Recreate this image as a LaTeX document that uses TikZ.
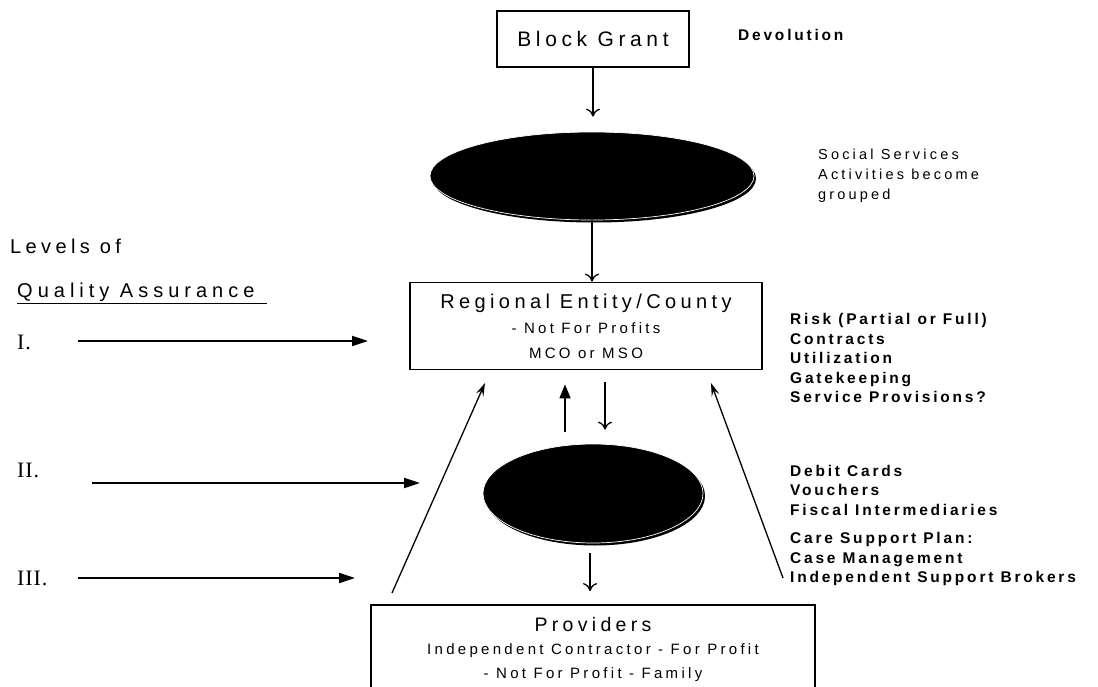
\documentclass[tikz,border=0pt]{standalone}
\usepackage{fontspec}
\setmainfont{Liberation Sans}
\newfontfamily\lsA[LetterSpace=22]{Liberation Sans}
\newfontfamily\lsQ[LetterSpace=25]{Liberation Sans}
\newfontfamily\lsB[LetterSpace=18]{Liberation Sans}
\newfontfamily\romanf[LetterSpace=4]{Liberation Serif}
\usetikzlibrary{arrows.meta,shapes.geometric}
\tikzset{
  boxed/.style={draw, line width=1.8pt, inner sep=0pt, align=center},
  blob/.style={ellipse, fill=black, inner sep=0pt},
  conn/.style={line width=1.3pt, -{To[length=8pt,width=14pt,line width=1.3pt]}},
  fconn/.style={line width=1.6pt, -{Triangle[length=14pt,width=11pt]}},
  diag/.style={line width=1.3pt, -{Stealth[length=13pt,width=8pt,inset=5pt]}},
  lvl/.style={line width=2.2pt, -{Triangle[length=16pt,width=10pt]}},
  bolds/.style={font=\lsB\bfseries\fontsize{15.5}{19.5}\selectfont, align=left, inner sep=0pt, anchor=west},
  numeral/.style={font=\romanf\fontsize{22}{24}\selectfont, inner sep=0pt, anchor=west},
  lbl/.style={font=\lsA\fontsize{20}{24}\selectfont, inner sep=0pt, anchor=west},
}
\begin{document}
\begin{tikzpicture}[x=1pt,y=-1pt]
\clip (0,0) rectangle (1098,687);
\fill[white] (0,0) rectangle (1098,687);

% boxes
\node[boxed, minimum width=192pt, minimum height=56pt, font=\lsA\fontsize{21}{24}\selectfont] (bg) at (593,39) {Block Grant};
\node[boxed, minimum width=352pt, minimum height=87pt, font=\lsA\fontsize{15}{25}\selectfont] (rg) at (586,326)
  {{\fontsize{20}{25}\selectfont Regional Entity/County}\\
   - Not For Profits\\
   MCO or MSO};
\node[boxed, minimum width=444pt, minimum height=88pt, font=\lsA\fontsize{15}{23.5}\selectfont] (pv) at (593,649)
  {{\fontsize{19.5}{23.5}\selectfont Providers}\\
   Independent Contractor - For Profit\\
   - Not For Profit - Family};

% ellipses (shadow + front)
\node[blob, minimum width=324pt, minimum height=88pt] (e1s) at (594,178.5) {};
\node[blob, draw=white, line width=0.7pt, minimum width=324pt, minimum height=88pt] (e1) at (592,176) {};
\node[blob, minimum width=220pt, minimum height=99pt] (e2s) at (595,496) {};
\node[blob, draw=white, line width=0.7pt, minimum width=220pt, minimum height=99pt] (e2) at (593,493.5) {};

% side texts
\node[font=\lsB\bfseries\fontsize{15.5}{19}\selectfont, inner sep=0pt, anchor=west] (dev) at (738,35) {Devolution};
\node[font=\lsA\fontsize{14.5}{20}\selectfont, align=left, inner sep=0pt, anchor=west] (ss) at (818,176)
  {Social Services\\Activities become\\grouped};
\node[bolds] (risk) at (790,358)
  {Risk (Partial or Full)\\Contracts\\Utilization\\Gatekeeping\\Service Provisions?};
\node[bolds] (debit) at (790,490) {Debit Cards\\Vouchers\\Fiscal Intermediaries};
\node[bolds] (care) at (790,559) {Care Support Plan:\\Case Management\\Independent Support Brokers};

% levels
\node[lbl] (lv) at (10,246) {Levels of};
\node[lbl, font=\lsQ\fontsize{20}{24}\selectfont] (qa) at (17,292) {Quality Assurance};
\draw[line width=1.3pt] (qa.south west) ++(0,2) coordinate (ula) -- (ula -| 267,0);
\node[numeral] (n1) at (17,342) {I.};
\node[numeral] (n2) at (17,470) {II.};
\node[numeral] (n3) at (17,578) {III.};

\coordinate (l1a) at (78,341);  \coordinate (l1b) at (368,341);
\coordinate (l2a) at (92,483);  \coordinate (l2b) at (420,483);
\coordinate (l3a) at (78,578);  \coordinate (l3b) at (355,578);
\draw[lvl] (l1a) -- (l1b);
\draw[lvl] (l2a) -- (l2b);
\draw[lvl] (l3a) -- (l3b);

% vertical connectors
\draw[conn, shorten >=15pt] (bg.south) -- (bg.south |- e1.north);
\draw[conn] (e1.south) -- (e1.south |- rg.north);
\coordinate (upx) at (565,0);
\coordinate (dnx) at (605,0);
\coordinate (mdx) at (590,0);
\draw[fconn, shorten <=12pt, shorten >=14pt] (e2.north -| upx) -- (rg.south -| upx);
\draw[conn, shorten <=12pt, shorten >=14pt] (rg.south -| dnx) -- (e2.north -| dnx);
\draw[conn, shorten <=10pt, shorten >=13pt] (e2.south -| mdx) -- (pv.north -| mdx);

% diagonal connectors
\coordinate (ldb) at (392,593); \coordinate (ldt) at (485,383);
\coordinate (rdb) at (783,578); \coordinate (rdt) at (711,383);
\draw[diag] (ldb) -- (ldt);
\draw[diag] (rdb) -- (rdt);
\end{tikzpicture}
\end{document}
